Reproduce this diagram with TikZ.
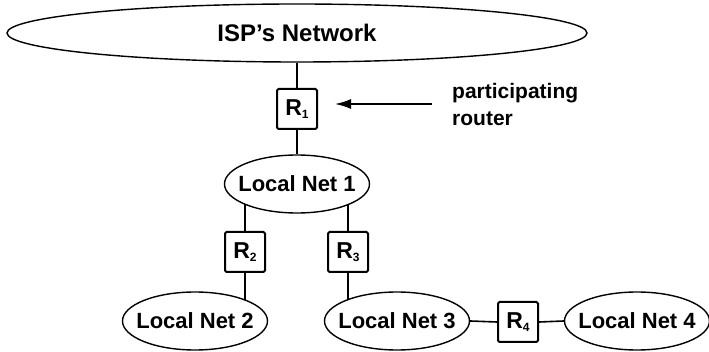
\documentclass[tikz,border=0pt]{standalone}
\usepackage{fontspec}
\setmainfont{Liberation Sans}
\usepackage{tikz}
\usetikzlibrary{shapes.geometric,arrows.meta,positioning,backgrounds}
\newcommand{\enr}[1]{R\raisebox{-3pt}{\fontsize{12}{12}\selectfont#1}}
\tikzset{
  subred/.style={draw,ellipse,fill=white,line width=1.4pt,inner ysep=0pt,inner xsep=-8pt,minimum width=145pt,minimum height=58pt,font=\fontsize{22}{24}\selectfont\bfseries},
  nube/.style={subred,minimum width=580pt,minimum height=58pt,font=\fontsize{24}{26}\selectfont\bfseries},
  caja/.style={draw,fill=white,line width=2pt,rounded corners=1.5pt,minimum size=40pt,inner sep=0pt,font=\fontsize{23}{24}\selectfont\bfseries},
  enlace/.style={line width=1.6pt},
  flecha/.style={-{Latex[length=16pt,width=10pt]},line width=1.8pt},
  etiqueta/.style={font=\fontsize{21}{27}\selectfont\bfseries,align=left,inner sep=0pt},
}
\begin{document}
\begin{tikzpicture}[x=1pt,y=-1pt]
  \useasboundingbox (0,0) rectangle (709,352);
  \node[nube] (isp) at (297,33) {ISP's Network};
  \node[caja] (r1) at (297,109) {\enr{1}};
  \node[subred] (ln1) at (297,184) {Local Net 1};
  \node[caja] (r2) at (245,252) {\enr{2}};
  \node[caja] (r3) at (348,252) {\enr{3}};
  \node[subred] (ln2) at (195,321) {Local Net 2};
  \node[subred] (ln3) at (397,321) {Local Net 3};
  \node[caja] (r4) at (518,322) {\enr{4}};
  \node[subred] (ln4) at (637,321) {Local Net 4};
  \node[etiqueta,anchor=west] (nota) at (452,104) {participating\\router};
  \draw[enlace] (isp.south) -- (r1.north);
  \draw[enlace] (r1.south) -- (ln1.north);
  \begin{scope}[on background layer]
    \draw[enlace] (r2.north) -- (r2.north |- ln1.center);
    \draw[enlace] (r3.north) -- (r3.north |- ln1.center);
    \draw[enlace] (r2.south) -- (r2.south |- ln2.center);
    \draw[enlace] (r3.south) -- (r3.south |- ln3.center);
  \end{scope}
  \draw[enlace] (ln3.east) -- (r4.west);
  \draw[enlace] (r4.east) -- (ln4.west);
  \draw[flecha,shorten <=20pt,shorten >=17pt] (nota.west) -- (nota.west -| r1.east);
\end{tikzpicture}
\end{document}
